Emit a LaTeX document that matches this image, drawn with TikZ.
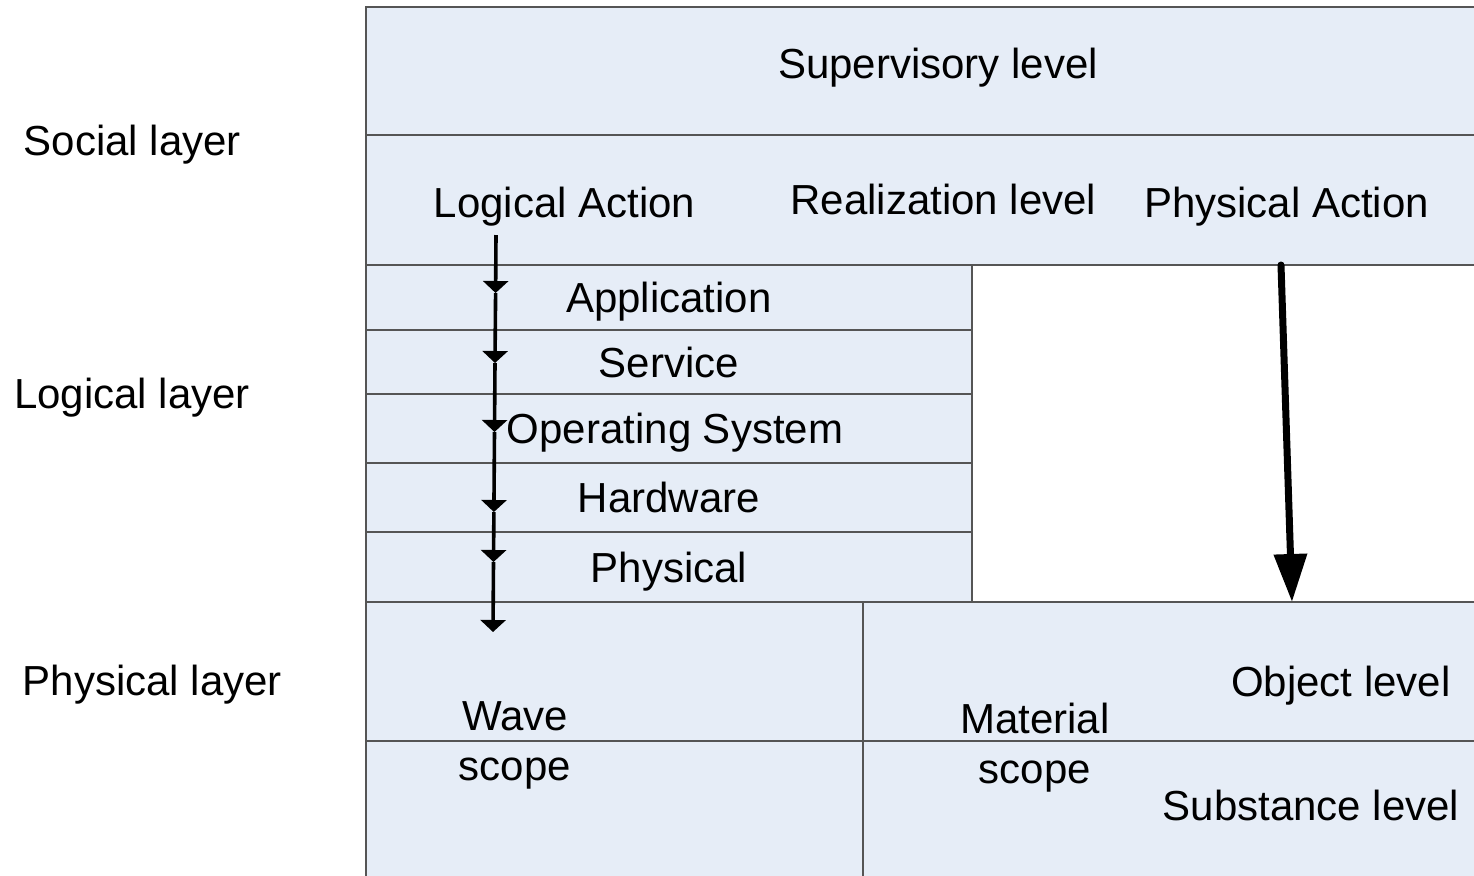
\documentclass[tikz,border=0pt]{standalone}
\usepackage{fontspec}
\setmainfont{Liberation Sans}
\usetikzlibrary{arrows.meta,positioning}
\definecolor{boxfill}{RGB}{230,237,247}
\definecolor{boxline}{RGB}{85,85,85}

\begin{document}
\begin{tikzpicture}[
    x=0.5pt, y=-0.5pt,
    font=\fontsize{21}{25}\selectfont,
    layer/.style={rectangle, draw=boxline, fill=boxfill, line width=0.9pt, inner sep=0pt, outer sep=0pt, anchor=north west},
    row/.style={layer, minimum width=303pt, text centered, text height=15pt, text depth=0pt},
    tag/.style={anchor=base, inner sep=0pt, align=center},
    thinflow/.style={line width=1.8pt, -{Triangle[width=12.5pt, length=6pt]}},
    bigflow/.style={line width=3.5pt, line cap=round, -{Triangle[width=16pt, length=24pt]}}
]
\useasboundingbox (0,0) rectangle (1474,875);
% Social layer
\node[layer, minimum width=557pt, minimum height=64pt] (sup) at (366,7) {};
\node[layer, minimum width=557pt, minimum height=65pt, below=0pt of sup] (real) {};
% Logical layer
\node[row, minimum height=32.5pt] (app) at (366,265) {Application};
\node[row, minimum height=32pt, below=0pt of app] (svc) {Service};
\node[row, minimum height=34.5pt, below=0pt of svc] (os) {\hspace{6pt}Operating System};
\node[row, minimum height=34.5pt, below=0pt of os] (hw) {Hardware};
\node[row, minimum height=35pt, below=0pt of hw] (phys) {Physical};
% Physical layer
\node[layer, minimum width=248.5pt, minimum height=69.5pt] (wtop) at (366,602) {};
\node[layer, minimum width=248.5pt, minimum height=69.5pt, below=0pt of wtop] (wbot) {};
\node[layer, minimum width=308.5pt, minimum height=69.5pt, right=0pt of wtop] (otop) {};
\node[layer, minimum width=308.5pt, minimum height=69.5pt, below=0pt of otop] (obot) {};
% Labels
\node[tag] (social) at (132.5,155) {Social layer};
\node[tag] (logical) at (132,408) {Logical layer};
\node[tag] (physical) at (152.5,695) {Physical layer};
\node[tag] (suptxt) at (938,78) {Supervisory level};
\node[tag] (lact) at (564.5,217) {Logical Action};
\node[tag] (realtxt) at (943.5,214) {Realization level};
\node[tag] (pact) at (1286.5,217) {Physical Action};
\node[tag] (wave) at (515,780) {Wave\\scope};
\node[tag] (material) at (1035,783) {Material\\scope};
\node[tag] (objtxt) at (1341,696) {Object level};
\node[tag] (subtxt) at (1311,820) {Substance level};
% Arrows
\coordinate (lfrom) at (496,235);
\coordinate (t1) at (495.6,293);
\coordinate (t2) at (495,363);
\coordinate (t3) at (494.5,432);
\coordinate (t4) at (493.9,512);
\coordinate (t5) at (493.5,562);
\coordinate (lto) at (493,632);
\draw[thinflow] (lfrom) -- (t1);
\draw[thinflow] (t1) -- (t2);
\draw[thinflow] (t2) -- (t3);
\draw[thinflow] (t3) -- (t4);
\draw[thinflow] (t4) -- (t5);
\draw[thinflow] (t5) -- (lto);
\coordinate (pfrom) at (1281,265);
\coordinate (pto) at (1292,602);
\draw[bigflow] (pfrom) -- (pto);
\end{tikzpicture}
\end{document}
